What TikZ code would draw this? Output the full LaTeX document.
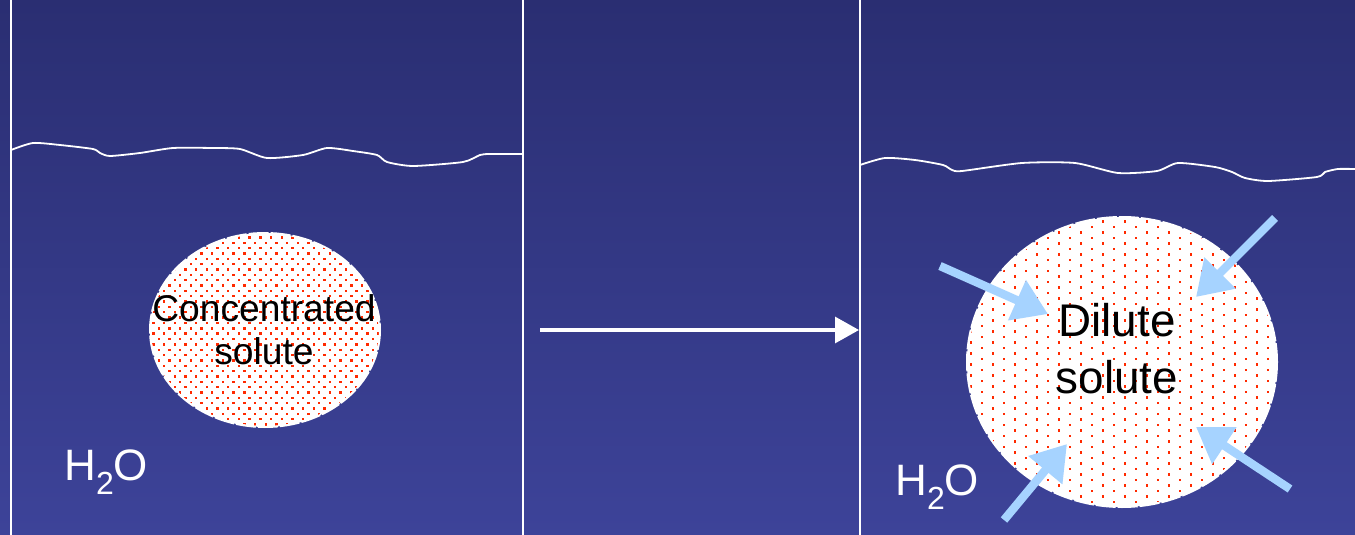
\documentclass[tikz,border=0pt]{standalone}
\usepackage{fontspec}
\setmainfont{Liberation Sans}
\usetikzlibrary{arrows.meta}
\definecolor{bgtop}{HTML}{2A2E72}
\definecolor{bgbot}{HTML}{3D4399}
\definecolor{dotred}{HTML}{FF2A00}
\definecolor{lblue}{HTML}{A6D3FF}
\tikzset{
  wall/.style={white,line width=0.8pt},
  surface/.style={white,line width=0.9pt,line join=round},
  blob/.style={draw=white,line width=1pt,dash pattern=on 10pt off 1pt},
  inflow/.style={lblue,line width=4.2pt,-{Triangle[length=17pt,width=21pt]}},
  proc/.style={white,line width=1.6pt,-{Triangle[length=12pt,width=13pt]}},
  lbl/.style={text=black,align=center,inner sep=0pt},
  water/.style={text=white,inner sep=0pt,font=\fontsize{22pt}{26pt}\selectfont}
}
\newcommand{\waterlabel}{H\raisebox{-0.32em}{\fontsize{16pt}{16pt}\selectfont 2}O}
\begin{document}
\begin{tikzpicture}[x=0.5pt,y=-0.5pt]
\useasboundingbox (0,0) rectangle (1355,535);
\shade[top color=bgtop,bottom color=bgbot] (0,0) rectangle (1355,535);
% walls
\draw[wall] (11,0) -- (11,535);
\draw[wall] (523,0) -- (523,535);
\draw[wall] (860,0) -- (860,535);
% surfaces
\draw[surface] plot[smooth,tension=0.4] coordinates {(11,150) (33,143) (60,145) (93,149) (100,153) (110,156) (140,153) (173,148) (213,148) (240,149) (267,158) (303,155) (327,148) (353,151) (377,155) (387,162) (413,166) (463,162) (480,155) (490,154) (523,154)};
\draw[surface] plot[smooth,tension=0.4] coordinates {(860,165) (885,158) (915,160) (943,165) (952,170) (962,171) (1022,163) (1075,163) (1118,173) (1157,171) (1178,163) (1215,167) (1232,172) (1245,178) (1268,181) (1317,177) (1325,172) (1338,169) (1355,169)};
% left blob
\fill[white] (265,330) ellipse [x radius=115, y radius=97];
\begin{scope}
\clip (265,330) ellipse [x radius=114, y radius=96];
\foreach \r in {0,...,37}{
  \pgfmathsetmacro{\yy}{232+5.35*\r}
  \pgfmathsetmacro{\shiftx}{mod(\r,2)*5.35}
  \foreach \c in {0,...,22}{
    \fill[dotred] ({148+\shiftx+10.7*\c-1.2},{\yy-1.2}) rectangle +(2.4,2.4);
  }
}
\end{scope}
\draw[blob] (265,330) ellipse [x radius=115, y radius=97];
% right blob
\fill[white] (1122,362) ellipse [x radius=155, y radius=145];
\begin{scope}
\clip (1122,362) ellipse [x radius=154, y radius=144];
\foreach \r in {0,...,53}{
  \pgfmathsetmacro{\yy}{216+5.5*\r}
  \pgfmathsetmacro{\shiftx}{mod(\r,2)*11}
  \foreach \c in {0,...,15}{
    \fill[dotred] ({960+\shiftx+22*\c-1.1},{\yy-1.1}) rectangle +(2.2,2.2);
  }
}
\end{scope}
\draw[blob] (1122,362) ellipse [x radius=155, y radius=145];
% labels
\node[lbl,font=\fontsize{18.6pt}{21.5pt}\selectfont] (conc) at (264,330) {Concentrated\\solute};
\node[lbl,font=\fontsize{22.9pt}{28.5pt}\selectfont] (dil) at (1117,349) {Dilute\\solute};
\node[water,anchor=base west] (h2oL) at (64,480) {\waterlabel};
\node[water,anchor=base west] (h2oR) at (895,495) {\waterlabel};
% process arrow
\coordinate (pa) at (540,330);
\coordinate (pb) at (859,330);
\draw[proc] (pa) -- (pb);
% inflow arrows
\coordinate (a1s) at (940,266); \coordinate (a1e) at (1048,314);
\coordinate (a2s) at (1275,218); \coordinate (a2e) at (1196,297);
\coordinate (a3s) at (1004,520); \coordinate (a3e) at (1067,444);
\coordinate (a4s) at (1290,489); \coordinate (a4e) at (1196,427);
\draw[inflow] (a1s) -- (a1e);
\draw[inflow] (a2s) -- (a2e);
\draw[inflow] (a3s) -- (a3e);
\draw[inflow] (a4s) -- (a4e);
\end{tikzpicture}
\end{document}
